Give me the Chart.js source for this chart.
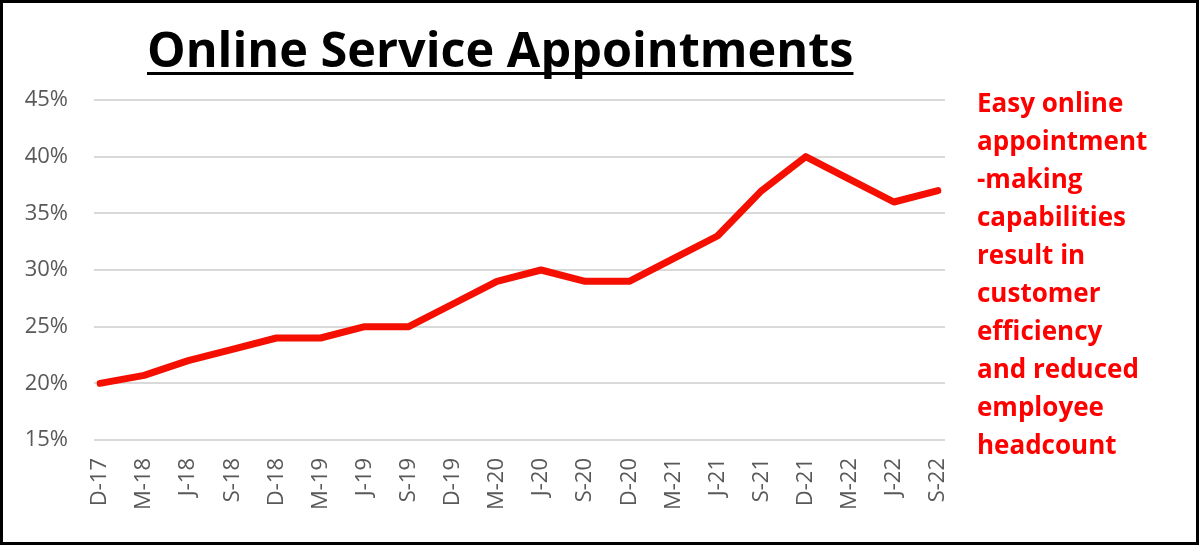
<!DOCTYPE html>
<html>
<head>
<meta charset="utf-8">
<script src="https://cdn.jsdelivr.net/npm/chart.js@4"></script>
<style>
  html, body { margin: 0; padding: 0; background: #fff; }
  #frame {
    position: relative;
    width: 1199px;
    height: 545px;
    box-sizing: border-box;
    border: 3px solid #000;
    overflow: hidden;
  }
  #chart { position: absolute; left: -3px; top: -3px; }
  #title {
    position: absolute;
    left: 144px;
    top: 21px;
    font: bold 48.6px "Open Sans", sans-serif;
    line-height: 48px;
    color: #000;
    white-space: nowrap;
    text-decoration: underline;
    text-decoration-thickness: 3px;
    text-underline-offset: 5px;
    text-decoration-skip-ink: none;
  }
  #note {
    position: absolute;
    left: 974px;
    top: 80px;
    font: bold 26px "Open Sans", sans-serif;
    line-height: 38px;
    color: #ff0000;
    white-space: nowrap;
  }
</style>
</head>
<body>
<div id="frame">
  <canvas id="chart" width="1199" height="545"></canvas>
  <div id="title">Online Service Appointments</div>
  <div id="note">Easy online<br>appointment<br>-making<br>capabilities<br>result in<br>customer<br>efficiency<br>and reduced<br>employee<br>headcount</div>
</div>
<script>
// Quarter labels, Dec 2017 to Sep 2022
const quarters = ["D-17", "M-18", "J-18", "S-18", "D-18", "M-19", "J-19", "S-19", "D-19", "M-20",
                  "J-20", "S-20", "D-20", "M-21", "J-21", "S-21", "D-21", "M-22", "J-22", "S-22"];

// Share of service appointments booked online (%)
const onlineShare = [20, 20.7, 22, 23, 24, 24, 25, 25, 27, 29,
                     30, 29, 29, 31, 33, 37, 40, 38, 36, 37];

const yMin = 15;
const yMax = 45;
const yStep = 5;

// Excel-style gridlines stick out a little past the plot on both sides
const extendedGrid = {
  id: 'extendedGrid',
  beforeDatasetsDraw: function (chart) {
    const ctx = chart.ctx;
    const area = chart.chartArea;
    const y = chart.scales.y;
    ctx.save();
    ctx.strokeStyle = '#d9d9d9';
    ctx.lineWidth = 2;
    y.ticks.forEach(t => {
      const py = Math.round(y.getPixelForValue(t.value));
      ctx.beginPath();
      ctx.moveTo(area.left - 6, py);
      ctx.lineTo(area.right + 7, py);
      ctx.stroke();
    });
    ctx.restore();
  }
};

const ctx = document.getElementById('chart');
new Chart(ctx, {
  type: 'line',
  data: {
    labels: quarters,
    datasets: [{
      data: onlineShare,
      borderColor: '#f40f00',
      borderWidth: 7,
      borderCapStyle: 'round',
      borderJoinStyle: 'round',
      pointRadius: 0,
      tension: 0,
      fill: false
    }]
  },
  options: {
    responsive: false,
    animation: false,
    devicePixelRatio: 1,
    layout: { padding: { top: 100, right: 261, left: 0, bottom: 0 } },
    plugins: {
      legend: { display: false },
      tooltip: { enabled: false }
    },
    scales: {
      x: {
        offset: false,
        grid: { display: false, drawTicks: false },
        border: { display: false },
        ticks: {
          autoSkip: false,
          minRotation: 90,
          maxRotation: 90,
          padding: 18,
          color: '#595959',
          font: { family: 'Open Sans', size: 22 }
        },
        afterFit: function (scale) { scale.height = 105; }
      },
      y: {
        min: yMin,
        max: yMax,
        grid: { display: false, drawTicks: false },
        border: { display: false },
        ticks: {
          stepSize: yStep,
          padding: 32,
          color: '#595959',
          font: { family: 'Open Sans', size: 22 },
          callback: v => v + '%'
        },
        afterFit: function (scale) { scale.width = 100; }
      }
    }
  },
  plugins: [extendedGrid]
});
</script>
</body>
</html>
